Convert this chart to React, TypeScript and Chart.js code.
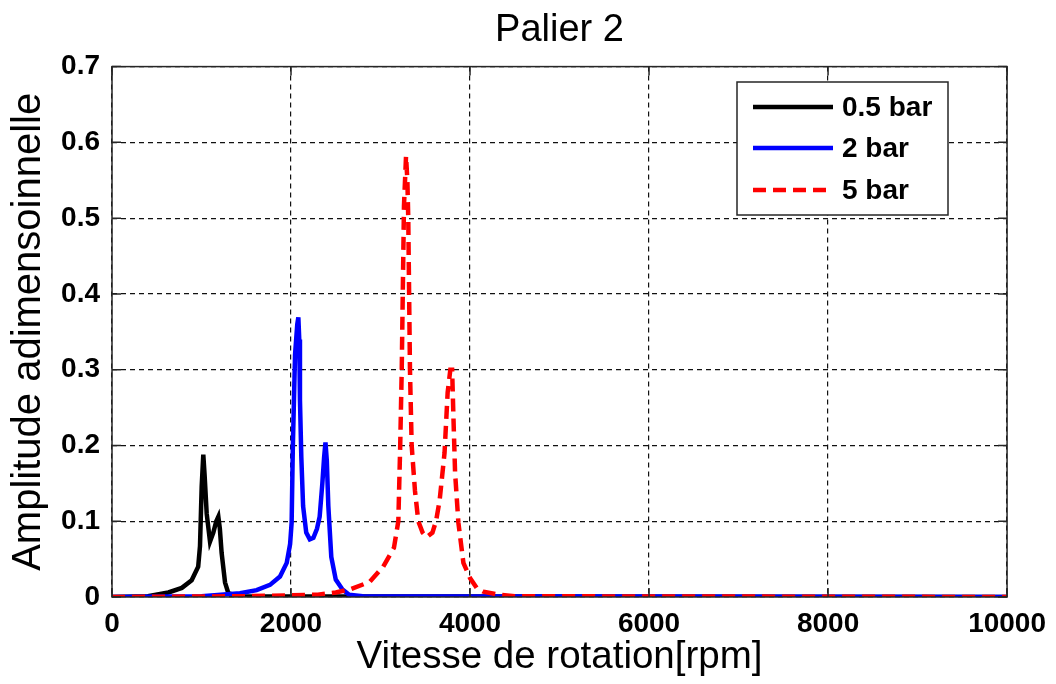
import React, { useEffect, useRef } from "react";
import { Chart, registerables } from "chart.js";

Chart.register(...registerables);

const chartTitle = "Palier 2";
const xTitle = "Vitesse de rotation[rpm]";
const yTitle = "Amplitude adimensoinnelle";

const xTicks = [0, 2000, 4000, 6000, 8000, 10000];
const yTicks = [0, 0.1, 0.2, 0.3, 0.4, 0.5, 0.6, 0.7];

const labels = ["0.5 bar", "2 bar", "5 bar"];

const speed05 = [0, 400, 630, 780, 890, 963, 983, 1002, 1020, 1035, 1058, 1095, 1132, 1165, 1188, 1205, 1225, 1263, 1300, 1400, 10000];
const amp05 = [0, 0.001, 0.006, 0.012, 0.022, 0.04, 0.067, 0.146, 0.188, 0.16, 0.11, 0.073, 0.085, 0.1, 0.106, 0.09, 0.058, 0.019, 0.005, 0.001, 0];

const speed2 = [0, 1000, 1430, 1616, 1765, 1877, 1952, 1990, 2007, 2020, 2045, 2070, 2082, 2092, 2100, 2115, 2135, 2170, 2210, 2250, 2290, 2320, 2350, 2370, 2385, 2400, 2417, 2450, 2500, 2575, 2650, 2800, 10000];
const amp2 = [0, 0.001, 0.005, 0.009, 0.016, 0.027, 0.045, 0.07, 0.098, 0.195, 0.32, 0.36, 0.369, 0.34, 0.26, 0.185, 0.12, 0.085, 0.076, 0.078, 0.09, 0.106, 0.15, 0.185, 0.204, 0.18, 0.12, 0.053, 0.023, 0.01, 0.003, 0.001, 0];

const speed5 = [0, 1500, 2300, 2500, 2660, 2880, 3030, 3150, 3199, 3220, 3237, 3262, 3285, 3300, 3310, 3329, 3348, 3385, 3422, 3470, 3515, 3580, 3620, 3660, 3715, 3750, 3780, 3800, 3814, 3833, 3870, 3926, 4000, 4075, 4150, 4330, 4500, 10000];
const amp5 = [0, 0.001, 0.003, 0.006, 0.01, 0.02, 0.04, 0.065, 0.1, 0.2, 0.3, 0.516, 0.582, 0.55, 0.5, 0.3, 0.2, 0.14, 0.1, 0.085, 0.079, 0.085, 0.1, 0.127, 0.19, 0.27, 0.3, 0.3, 0.24, 0.164, 0.098, 0.045, 0.025, 0.012, 0.007, 0.003, 0.001, 0];

const FONT = "'Liberation Sans', Arial, sans-serif";

const toPoints = (xs: number[], ys: number[]) => xs.map((x, i) => ({ x, y: ys[i] }));

const framePlugin = {
  id: "frameAndLegend",
  afterDatasetsDraw(chart: any) {
    const { ctx, chartArea } = chart;
    const { left, right, top, bottom } = chartArea;
    const xs = chart.scales.x;
    const ys = chart.scales.y;
    ctx.save();
    ctx.strokeStyle = "#262626";
    ctx.lineWidth = 1.5;
    ctx.setLineDash([]);
    ctx.strokeRect(left, top, right - left, bottom - top);
    const tl = 9;
    ctx.beginPath();
    xTicks.forEach((v) => {
      const px = xs.getPixelForValue(v);
      ctx.moveTo(px, bottom);
      ctx.lineTo(px, bottom - tl);
      ctx.moveTo(px, top);
      ctx.lineTo(px, top + tl);
    });
    yTicks.forEach((v) => {
      const py = ys.getPixelForValue(v);
      ctx.moveTo(left, py);
      ctx.lineTo(left + tl, py);
      ctx.moveTo(right, py);
      ctx.lineTo(right - tl, py);
    });
    ctx.stroke();

    // legend box
    const bx = 737, by = 82, bw = 211, bh = 133;
    ctx.fillStyle = "#ffffff";
    ctx.fillRect(bx, by, bw, bh);
    ctx.strokeStyle = "#262626";
    ctx.lineWidth = 1.5;
    ctx.strokeRect(bx, by, bw, bh);
    const rows = [107, 148, 190];
    chart.data.datasets.forEach((ds: any, i: number) => {
      const y = rows[i];
      ctx.beginPath();
      ctx.strokeStyle = ds.borderColor;
      ctx.lineWidth = ds.borderWidth;
      ctx.setLineDash(ds.borderDash || []);
      ctx.moveTo(753, y);
      ctx.lineTo(833, y);
      ctx.stroke();
      ctx.setLineDash([]);
      ctx.fillStyle = "#000";
      ctx.font = `bold 28px ${FONT}`;
      ctx.textBaseline = "middle";
      ctx.textAlign = "left";
      ctx.fillText(ds.label, 842, y + 1);
    });
    ctx.restore();
  },
};

export default function App() {
  const ref = useRef<HTMLCanvasElement | null>(null);
  useEffect(() => {
    if (!ref.current) return;
    const chart = new Chart(ref.current, {
      type: "line",
      data: {
        datasets: [
          {
            label: labels[0],
            data: toPoints(speed05, amp05),
            borderColor: "#000000",
            borderWidth: 4.5,
            pointRadius: 0,
            tension: 0,
            order: 2,
          },
          {
            label: labels[1],
            data: toPoints(speed2, amp2),
            borderColor: "#0000ff",
            borderWidth: 4.5,
            pointRadius: 0,
            tension: 0,
            order: 1,
          },
          {
            label: labels[2],
            data: toPoints(speed5, amp5),
            borderColor: "#ff0000",
            borderWidth: 4.5,
            borderDash: [13, 7],
            pointRadius: 0,
            tension: 0,
            order: 0,
          },
        ],
      },
      options: {
        animation: false,
        responsive: false,
        layout: { padding: { left: 0, right: 47, top: 0, bottom: 0 } },
        plugins: {
          legend: { display: false },
          tooltip: { enabled: false },
          title: {
            display: true,
            fullSize: false,
            text: chartTitle,
            color: "#000",
            font: { family: FONT, size: 38, weight: "normal", lineHeight: 1.2 },
            padding: { top: 8, bottom: 13 },
          },
        },
        scales: {
          x: {
            type: "linear",
            min: 0,
            max: 10000,
            afterBuildTicks: (s: any) => {
              s.ticks = xTicks.map((v) => ({ value: v }));
            },
            afterFit: (s: any) => {
              s.height = 87;
            },
            ticks: {
              color: "#000",
              padding: 10,
              maxRotation: 0,
              autoSkip: false,
              font: { family: FONT, size: 28, weight: "bold" },
              callback: (v: any) => String(v),
            },
            grid: {
              color: "#111",
              lineWidth: 1.2,
              drawTicks: false,
            },
            border: { display: false, dash: [5, 4] },
            title: {
              display: true,
              text: xTitle,
              color: "#000",
              font: { family: FONT, size: 38.5, weight: "normal", lineHeight: 1.2 },
              padding: { top: 0, bottom: 4 },
            },
          },
          y: {
            type: "linear",
            min: 0,
            max: 0.7,
            afterBuildTicks: (s: any) => {
              s.ticks = yTicks.map((v) => ({ value: v }));
            },
            afterFit: (s: any) => {
              s.width = 112;
            },
            ticks: {
              color: "#000",
              padding: 12,
              autoSkip: false,
              font: { family: FONT, size: 28, weight: "bold" },
              callback: (v: any) => (Number(v) === 0 ? "0" : Number(v).toFixed(1)),
            },
            grid: {
              color: "#111",
              lineWidth: 1.2,
              drawTicks: false,
            },
            border: { display: false, dash: [5, 4] },
            title: {
              display: true,
              text: yTitle,
              color: "#000",
              font: { family: FONT, size: 40, weight: "normal", lineHeight: 1.2 },
              padding: { top: 5, bottom: 0 },
            },
          },
        },
      },
      plugins: [framePlugin],
    } as any);
    return () => chart.destroy();
  }, []);
  return (
    <div style={{ position: "absolute", left: 0, top: 0, width: 1056, height: 684, background: "#fff" }}>
      <canvas ref={ref} width={1056} height={684} style={{ display: "block" }} />
    </div>
  );
}
